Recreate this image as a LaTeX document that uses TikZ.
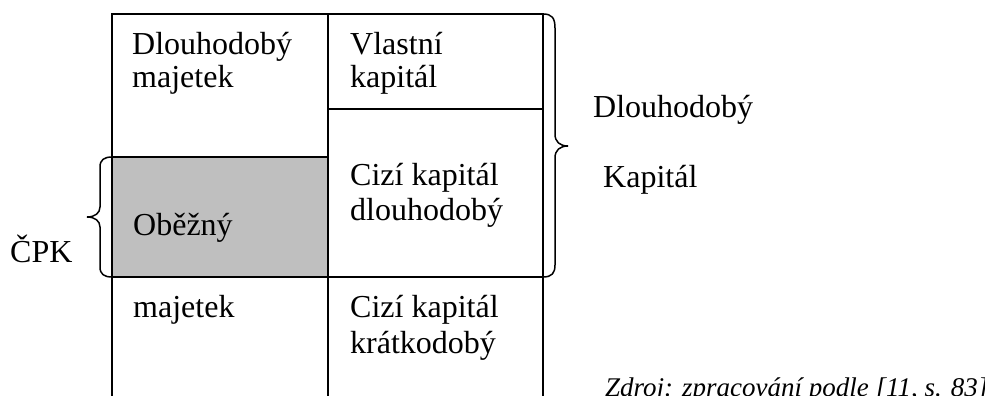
\documentclass[tikz,border=0pt]{standalone}
\usepackage{fontspec}
\setmainfont{Liberation Serif}
\begin{document}
\begin{tikzpicture}[x=1pt,y=-1pt,
  txt/.style={anchor=base west,inner sep=0pt,font=\fontsize{32}{36}\selectfont},
  src/.style={anchor=base west,inner sep=0pt,font=\fontsize{27}{30}\selectfont\itshape},
  rule/.style={line width=1.6pt,line cap=rect},
  brace/.style={line width=1.5pt}]
\useasboundingbox (0,0) rectangle (985,396);
% gray fill
\fill[gray!50] (112,157) rectangle (328,277);
% table lines
\coordinate (tl) at (112,14);
\coordinate (tm) at (328,14);
\coordinate (tr) at (543,14);
\coordinate (bl) at (112,400);
\coordinate (bm) at (328,400);
\coordinate (br) at (543,400);
\coordinate (ml) at (328,109);
\coordinate (mr) at (543,109);
\coordinate (gl) at (112,157);
\coordinate (gm) at (328,157);
\coordinate (hl) at (112,277);
\coordinate (hr) at (543,277);
\draw[rule] (bl) -- (tl) -- (tr) -- (br);
\draw[rule] (tm) -- (bm);
\draw[rule] (ml) -- (mr);
\draw[rule] (gl) -- (gm);
\draw[rule] (hl) -- (hr);
% right brace
\draw[brace] (tr) .. controls (552,14) and (555,18) .. (555,28) -- (555,134)
  .. controls (555,142) and (560,146) .. (568,146)
  .. controls (560,146) and (555,150) .. (555,158) -- (555,265)
  .. controls (555,273) and (552,277) .. (hr);
% left brace
\draw[brace] (gl) .. controls (104,157) and (100,160) .. (100,167) -- (100,207)
  .. controls (100,213) and (95,217) .. (87,217)
  .. controls (95,217) and (100,221) .. (100,227) -- (100,267)
  .. controls (100,274) and (104,277) .. (hl);
% texts
\node[txt] (a1) at (132,55) {Dlouhodobý};
\node[txt] (a2) at (132,88) {majetek};
\node[txt] (b1) at (350,55) {Vlastní};
\node[txt] (b2) at (350,88) {kapitál};
\node[txt] (c1) at (350,185) {Cizí kapitál};
\node[txt] (c2) at (350,220) {dlouhodobý};
\node[txt] (o1) at (133,235) {Oběžný};
\node[txt] (o2) at (133,317) {majetek};
\node[txt] (d1) at (350,317) {Cizí kapitál};
\node[txt] (d2) at (350,353) {krátkodobý};
\node[txt] (r1) at (593,117) {Dlouhodobý};
\node[txt] (r2) at (603,187) {Kapitál};
\node[txt] (cpk) at (10,262) {ČPK};
\node[src] (zdroj) at (605,396) {Zdroj: zpracování podle [11, s. 83]};
\end{tikzpicture}
\end{document}
